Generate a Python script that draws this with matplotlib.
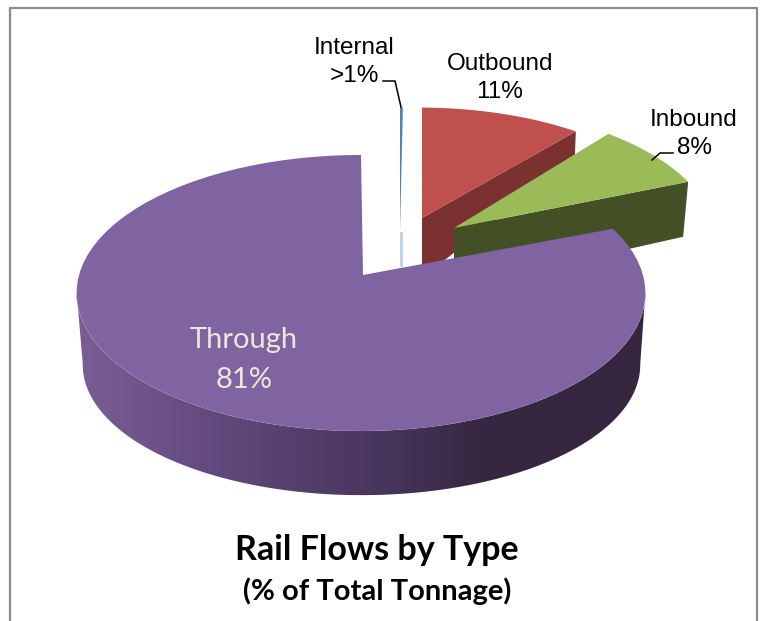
# =========================================================
# RAIL FLOWS BY TYPE - EXPLODED 3D PIE
# =========================================================

import numpy as np
import matplotlib.pyplot as plt
from matplotlib.colors import LinearSegmentedColormap
from matplotlib.patches import Polygon

# =========================================================
# DATA
# =========================================================

categories = ["Internal", "Outbound", "Inbound", "Through"]
shares = [0.2, 11, 8, 80.8]
label_text = [">1%", "11%", "8%", "81%"]

# =========================================================
# STYLE
# =========================================================

top_colors = ["#4F81BD", "#C0504D", "#9BBB59", "#8064A2"]
side_colors = ["#C3D4E8", "#7A3130", "#434F24", "#362640"]
TILT = 0.1304
RADIUS_X = 282.0
RADIUS_Y = 135.7

fig = plt.figure(figsize=(7.62, 6.21), dpi=100)
ax = fig.add_axes([0, 0, 1, 1])
ax.set_xlim(0, 762)
ax.set_ylim(621, 0)
ax.axis("off")


# Circle in the pie plane -> screen position, with a bit of perspective
def rim(angles, apex, scale_x=1.0, scale_y=1.0):
    rad = np.radians(angles)
    east, north = np.sin(rad), np.cos(rad)
    w = 1 + TILT * north
    x = apex[0] + scale_x * RADIUS_X * east / w
    y = apex[1] - scale_y * RADIUS_Y * north / w
    return np.column_stack([x, y])


def add_poly(points, color, zorder):
    patch = Polygon(points, closed=True, facecolor=color, edgecolor="none", zorder=zorder)
    ax.add_patch(patch)
    return patch


# Slice angles, clockwise from north
edges = np.concatenate([[0], np.cumsum(shares)]) * 3.6
spans = [np.linspace(edges[i], edges[i + 1], 80) for i in range(4)]

# =========================================================
# INTERNAL, OUTBOUND AND INBOUND (pulled away from the pie)
# =========================================================

# Internal
apex = (400.0, 232.0)
pts = rim(spans[0], (400.0, 219.0), 0.93, 0.93)
add_poly([(apex[0], apex[1]), (apex[0] + 2.5, apex[1]), (apex[0] + 2.5, 267), (apex[0], 267)], side_colors[0], 2)
add_poly(np.vstack([[apex], pts]), top_colors[0], 3)

# Outbound
apex = (422.0, 218.0)
pts = rim(spans[1], (419.0, 218.0), 0.945, 0.92)
last = pts[-1]
add_poly([apex, last, last + (-1, 26), (apex[0], apex[1] + 60)], side_colors[1], 4)
add_poly(np.vstack([[apex], pts]), top_colors[1], 5)

# Inbound
apex = (454.0, 228.0)
pts = rim(spans[2], apex, 0.93, 1.0)
last = pts[-1]
add_poly([apex, last, last + (-5, 55), (apex[0], apex[1] + 60)], side_colors[2], 6)
add_poly(np.vstack([[apex], pts]), top_colors[2], 7)

# =========================================================
# THROUGH
# =========================================================

apex = (363.0, 275.0)
rim_center = (361.0, 275.0)
rim_center_low = (361.5, 348.0)

side_angles = np.linspace(97, 263, 120)
side_outline = np.vstack([
    rim(side_angles, rim_center),
    rim(side_angles[::-1], rim_center_low, 0.98, 0.943),
])
side_patch = add_poly(side_outline, "none", 8)

shade = LinearSegmentedColormap.from_list(
    "through_side",
    [(0.0, "#7A5E96"), (0.25, "#62497D"), (0.55, "#47345A"), (0.72, "#362640"), (1.0, "#362640")],
)
gradient = ax.imshow(
    np.linspace(0, 1, 256).reshape(1, -1),
    cmap=shade,
    extent=(76, 646, 500, 280),
    aspect="auto",
    zorder=8,
)
gradient.set_clip_path(side_patch)
ax.set_xlim(0, 762)
ax.set_ylim(621, 0)

add_poly(np.vstack([[apex], rim(spans[3], rim_center)]), top_colors[3], 9)

# =========================================================
# LABELS
# =========================================================

arial = ["Liberation Sans", "DejaVu Sans"]
lato = ["Lato", "DejaVu Sans"]

label_pos = [(354, 48, 76), (500, 64, 92), (694, 120, 148)]
for i in range(3):
    x, y1, y2 = label_pos[i]
    ax.text(x, y1, categories[i], family=arial, fontsize=17.5, ha="center", va="center", color="black", zorder=12)
    ax.text(x, y2, label_text[i], family=arial, fontsize=17.5, ha="center", va="center", color="black", zorder=12)

ax.text(244, 340, categories[3], family=lato, fontsize=21, ha="center", va="center", color="#EDE7D8", zorder=12)
ax.text(244, 380, label_text[3], family=lato, fontsize=21, ha="center", va="center", color="#EDE7D8", zorder=12)

# Leader lines
ax.plot([383, 395, 401], [81, 81, 107], color="black", lw=1.1, zorder=11)
ax.plot([673, 660, 652], [153, 153, 160], color="black", lw=1.1, zorder=11)

# Title
ax.text(377, 550, "Rail Flows by Type", family=lato, fontsize=24.5, fontweight="bold", ha="center", va="center", color="black")
ax.text(377, 591, "(% of Total Tonnage)", family=lato, fontsize=21, fontweight="bold", ha="center", va="center", color="black")

# Chart frame
ax.plot([10, 10, 757, 757], [621, 8, 8, 621], color="#8C8C8C", lw=1.6, zorder=1)

# =========================================================
# SAVE
# =========================================================

fig.savefig("out.png", dpi=100, facecolor="white")
plt.close(fig)
